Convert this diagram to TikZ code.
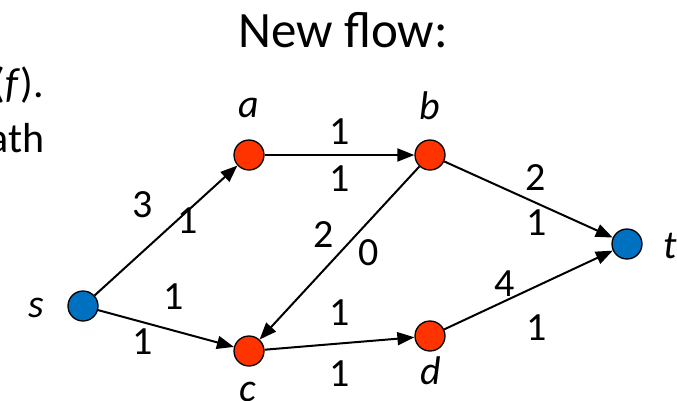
\documentclass[tikz,border=0pt]{standalone}
\usepackage{fontspec}
\setmainfont{Carlito}
\usetikzlibrary{arrows.meta}
\definecolor{vred}{HTML}{FF3300}
\definecolor{vblue}{HTML}{0070C0}
\begin{document}
\begin{tikzpicture}[x=1pt,y=-1pt,vert/.style={circle, draw=black, line width=1.3pt, minimum size=30pt, inner sep=0pt},inner/.style={vert, fill=vred},term/.style={vert, fill=vblue},flow/.style={line width=2pt, -{Triangle[length=17pt,width=13pt]}},num/.style={inner sep=0pt, font=\fontsize{40}{48}\selectfont},vlab/.style={inner sep=0pt, font=\fontsize{40}{48}\selectfont\itshape},side/.style={inner sep=0pt, font=\fontsize{42}{50}\selectfont}]
\useasboundingbox (0,0) rectangle (677,400);
\node[anchor=base, inner sep=0pt, font=\fontsize{51}{60}\selectfont] (title) at (343,47) {New flow:};
\node[side, anchor=base east] (prev) at (44,97) {(\textit{f}).};\node[side, anchor=base east] (path) at (45,152) {ath};
% vertices
\node[term] (s) at (83,306) {};\node[inner] (a) at (249,155) {};\node[inner] (b) at (430,155) {};
\node[inner] (c) at (249,351) {};\node[inner] (d) at (430,336) {};\node[term] (t) at (627,244) {};
\node[vlab] (sl) at (36,308) {s};\node[vlab] (al) at (249,108) {a};\node[vlab] (bl) at (430,106) {b};
\node[vlab] (cl) at (248,392) {c};\node[vlab] (dl) at (431,371) {d};\node[vlab, anchor=west] (tl) at (663,246) {t};
% edges
\draw[flow] (s) -- (a);\draw[flow] (a) -- (b);\draw[flow] (b) -- (c);\draw[flow] (b) -- (t);
\draw[flow] (s) -- (c);\draw[flow] (c) -- (d);\draw[flow] (d) -- (t);
% capacity / flow
\node[num] (sa1) at (143,205) {3};\node[num] (sa2) at (188,221) {1};
\node[num] (ab1) at (340,132) {1};\node[num] (ab2) at (340,179) {1};
\node[num] (bc1) at (324,235) {2};\node[num] (bc2) at (369,253) {0};
\node[num] (bt1) at (536,178) {2};\node[num] (bt2) at (537,223) {1};
\node[num] (sc1) at (174,297) {1};\node[num] (sc2) at (143,342) {1};
\node[num] (cd1) at (340,313) {1};\node[num] (cd2) at (340,374) {1};
\node[num] (dt1) at (505,284) {4};\node[num] (dt2) at (537,328) {1};
\end{tikzpicture}
\end{document}
